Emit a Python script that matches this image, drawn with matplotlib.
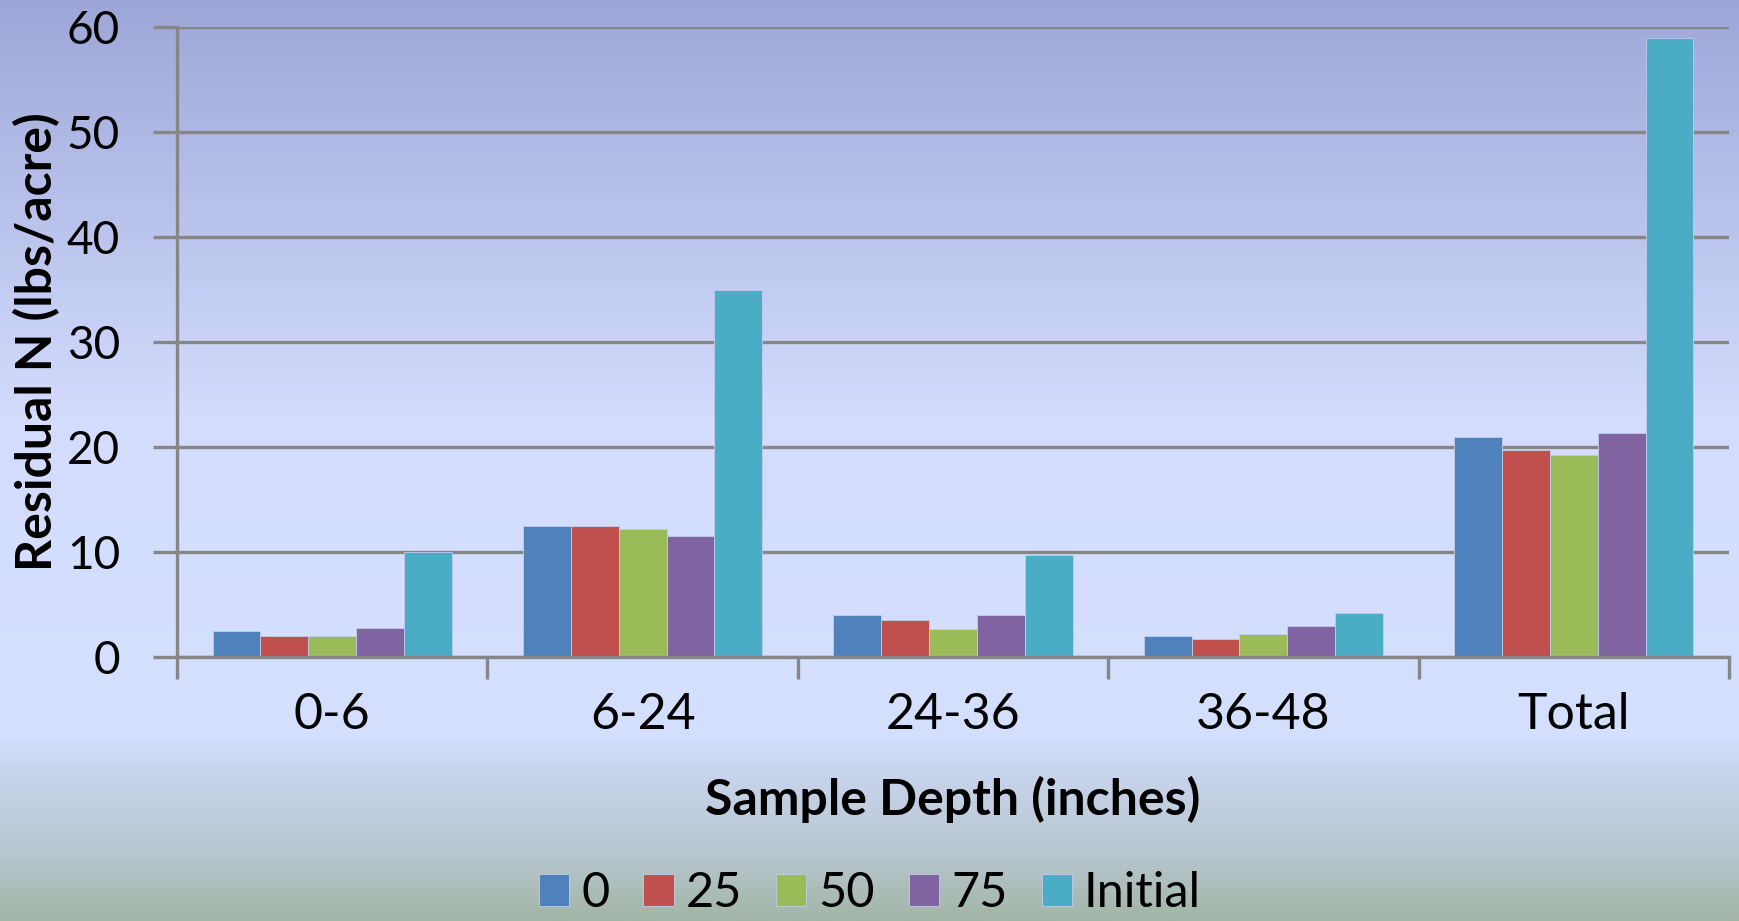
import numpy as np
import matplotlib
matplotlib.use("Agg")
import matplotlib.pyplot as plt

plt.rcParams['font.family'] = ['Lato', 'DejaVu Sans']

# sample depth groups and residual N per fertilizer rate (lbs/acre)
depths = ['0-6', '6-24', '24-36', '36-48', 'Total']
rate_0 = [2.5, 12.5, 4.0, 2.0, 21.0]
rate_25 = [2.0, 12.5, 3.5, 1.7, 19.7]
rate_50 = [2.0, 12.2, 2.7, 2.2, 19.2]
rate_75 = [2.8, 11.5, 4.0, 3.0, 21.3]
initial = [10.0, 35.0, 9.7, 4.2, 59.0]

series_names = ['0', '25', '50', '75', 'Initial']
series_colors = ['#4F81BD', '#C0504D', '#9BBB59', '#8064A2', '#4BACC6']
y_ticks = [0, 10, 20, 30, 40, 50, 60]

fig = plt.figure(figsize=(17.4, 9.21), dpi=100)

# background gradient over the whole figure
stops = [0.0, 0.45, 0.80, 0.84, 0.93, 1.0]
r = [158, 211, 213, 200, 184, 162]
g = [166, 220, 223, 212, 198, 181]
b = [216, 253, 254, 236, 206, 166]
yy = np.linspace(0, 1, 400)
grad = np.stack([np.interp(yy, stops, c) for c in (r, g, b)], axis=-1) / 255.0
bg = fig.add_axes([0, 0, 1, 1], zorder=-10)
bg.imshow(grad[:, None, :], aspect='auto', extent=[0, 1, 0, 1], origin='upper')
bg.axis('off')

ax = fig.add_axes([177 / 1740, 1 - 657 / 921, (1729 - 177) / 1740, (657 - 27) / 921])
ax.patch.set_alpha(0)

x = np.arange(len(depths))
w = 0.154
all_series = [rate_0, rate_25, rate_50, rate_75, initial]
for k, (vals, name, col) in enumerate(zip(all_series, series_names, series_colors)):
    ax.bar(x + (k - 2) * w, vals, width=w, color=col, label=name,
           edgecolor='#c3cbee', linewidth=0.6, zorder=3)

ax.set_xlim(-0.5, len(depths) - 0.5)
ax.set_ylim(0, 60)
ax.set_yticks(y_ticks)
ax.yaxis.grid(True, color='#868686', linewidth=2.4, zorder=1)

ax.set_xticks(np.arange(len(depths) + 1) - 0.5)
ax.set_xticklabels([])
ax.set_xticks(x, minor=True)
ax.set_xticklabels(depths, minor=True, fontsize=36)
ax.tick_params(axis='x', which='minor', length=0, pad=25)
ax.tick_params(axis='x', which='major', length=16, width=2.4, color='#868686')
ax.tick_params(axis='y', length=17, width=2.4, color='#868686', labelsize=33, pad=24)

for s in ['top', 'right']:
    ax.spines[s].set_visible(False)
for s in ['left', 'bottom']:
    ax.spines[s].set_color('#868686')
    ax.spines[s].set_linewidth(2.4)
    ax.spines[s].set_zorder(4)

ax.set_xlabel('Sample Depth (inches)', fontsize=36, fontweight='bold', va='center')
ax.xaxis.set_label_coords(0.5, (657 - 799) / 630)
ax.set_ylabel('Residual N (lbs/acre)', fontsize=36, fontweight='bold', va='center')
ax.yaxis.set_label_coords((37 - 177) / 1552, 0.5)

fig.legend(loc='center', bbox_to_anchor=(870 / 1740, 1 - 893 / 921), ncol=5,
           frameon=False, fontsize=35, handlelength=0.62, handleheight=0.62,
           handletextpad=0.25, columnspacing=0.7, borderpad=0)

fig.savefig('out.png', dpi=100)
